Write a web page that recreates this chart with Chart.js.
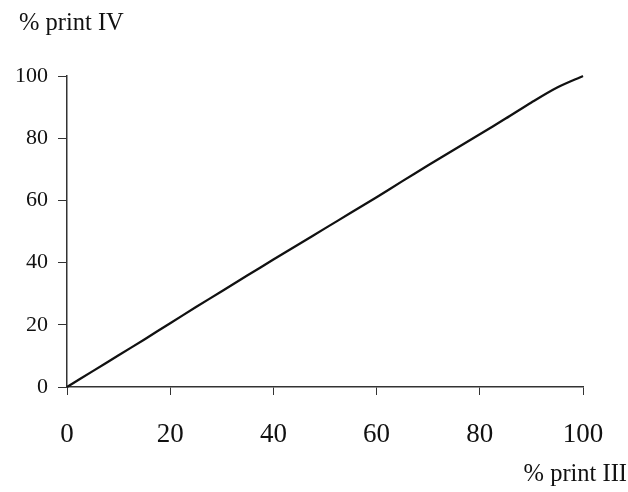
<!DOCTYPE html>
<html>
<head>
<meta charset="utf-8">
<script src="https://cdn.jsdelivr.net/npm/chart.js@4"></script>
<style>
  html, body { margin: 0; padding: 0; background: #fff; }
  canvas { display: block; }
</style>
</head>
<body>
<canvas id="c" width="628" height="492"></canvas>
<script>
// Data
const printIII = [0, 5, 10, 15, 20, 25, 30, 35, 40, 45, 50, 55, 60, 65, 70, 75, 80, 85, 90, 95, 100];
const printIV  = [0, 5.1, 10.2, 15.3, 20.5, 25.7, 30.8, 35.9, 41.0, 46.0, 51.0, 56.0, 61.0, 66.2, 71.3, 76.3, 81.3, 86.3, 91.5, 96.3, 100];
const xTicks = [0, 20, 40, 60, 80, 100];
const yTicks = [0, 20, 40, 60, 80, 100];
const yAxisLabel = '% print IV';
const xAxisLabel = '% print III';

const SERIF = '"Liberation Serif", "Times New Roman", serif';

const axisLabels = {
  id: 'axisLabels',
  afterDraw(chart) {
    const ctx = chart.ctx;
    ctx.save();
    ctx.fillStyle = '#111';
    ctx.font = '24.5px ' + SERIF;
    ctx.textBaseline = 'alphabetic';
    ctx.textAlign = 'left';
    ctx.fillText(yAxisLabel, 19, 30);
    ctx.textAlign = 'right';
    ctx.fillText(xAxisLabel, 627, 481);
    ctx.restore();
  }
};

new Chart(document.getElementById('c'), {
  type: 'line',
  data: {
    datasets: [{
      data: printIII.map((x, i) => ({ x: x, y: printIV[i] })),
      borderColor: '#111',
      borderWidth: 2.3,
      pointRadius: 0,
      tension: 0.3,
      fill: false,
      clip: false
    }]
  },
  options: {
    responsive: false,
    animation: false,
    devicePixelRatio: 1,
    layout: { padding: { left: 0, right: 45, top: 76, bottom: 0 } },
    plugins: {
      legend: { display: false },
      tooltip: { enabled: false },
      title: { display: false }
    },
    scales: {
      x: {
        type: 'linear',
        min: 0,
        max: 100,
        afterBuildTicks: s => { s.ticks = xTicks.map(v => ({ value: v })); },
        afterFit: s => { s.height = 105; },
        grid: { drawOnChartArea: false, drawTicks: true, tickLength: 8, color: '#333', lineWidth: 1 },
        border: { display: true, color: '#333', width: 1.5 },
        ticks: {
          color: '#111',
          padding: 24,
          maxRotation: 0,
          font: { family: SERIF, size: 27 }
        }
      },
      y: {
        type: 'linear',
        min: 0,
        max: 100,
        afterBuildTicks: s => { s.ticks = yTicks.map(v => ({ value: v })); },
        afterFit: s => { s.width = 67; },
        grid: { drawOnChartArea: false, drawTicks: true, tickLength: 9, color: '#333', lineWidth: 1 },
        border: { display: true, color: '#333', width: 1.5 },
        ticks: {
          color: '#111',
          padding: 10,
          font: { family: SERIF, size: 22 }
        }
      }
    }
  },
  plugins: [axisLabels]
});
</script>
</body>
</html>
